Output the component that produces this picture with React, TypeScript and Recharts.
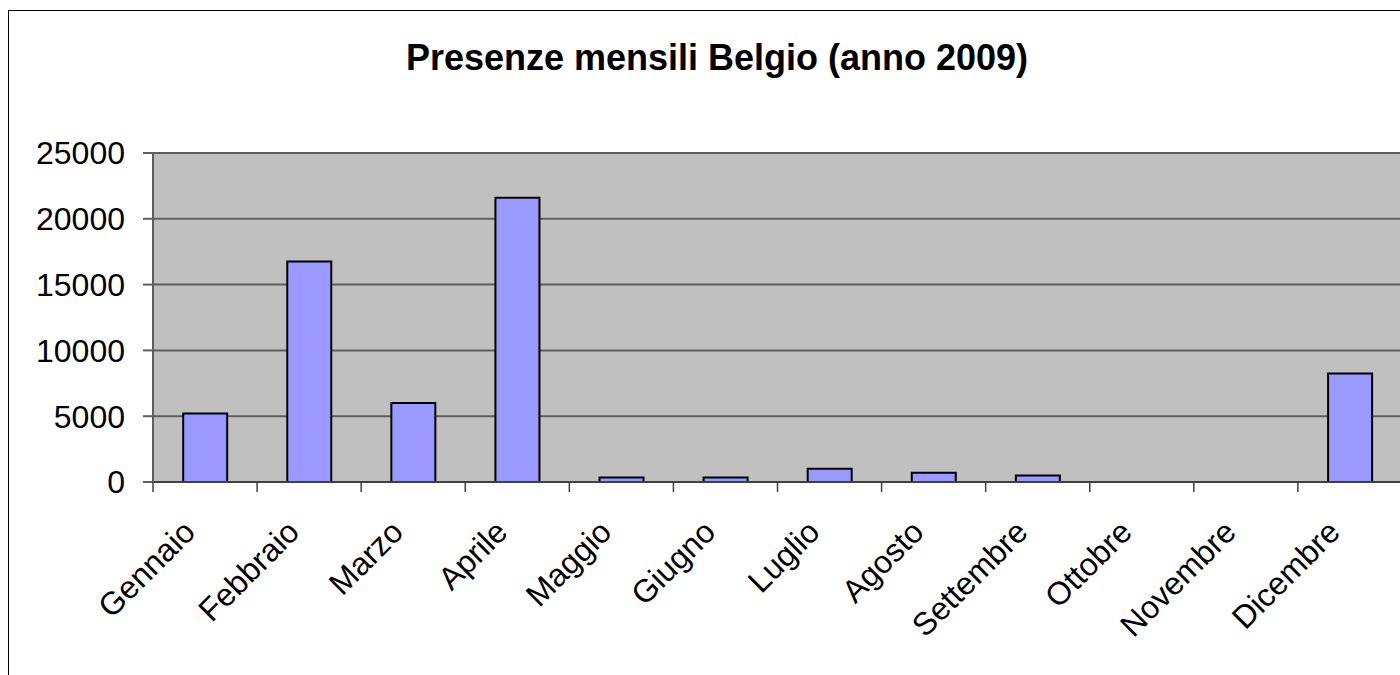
import { Bar, BarChart, CartesianGrid, XAxis, YAxis } from "recharts";

const months = [
  "Gennaio",
  "Febbraio",
  "Marzo",
  "Aprile",
  "Maggio",
  "Giugno",
  "Luglio",
  "Agosto",
  "Settembre",
  "Ottobre",
  "Novembre",
  "Dicembre",
];
const presenze = [5200, 16750, 6000, 21600, 350, 350, 1000, 700, 500, 0, 0, 8250];
const yTicks = [0, 5000, 10000, 15000, 20000, 25000];

const data = months.map((mese, i) => ({ mese, presenze: presenze[i] }));

const FONT = "'Liberation Sans', Arial, sans-serif";

// label rotated like Excel, plus the tick mark on the left edge of the band
const MonthTick = (props: any) => {
  const { x, y, payload, index, visibleTicksCount } = props;
  const half = payload.offset ?? 0;
  return (
    <g>
      <line x1={x - half} x2={x - half} y1={y} y2={y + 10} stroke="#404040" strokeWidth={1.5} />
      {index === visibleTicksCount - 1 && (
        <line x1={x + half} x2={x + half} y1={y} y2={y + 10} stroke="#404040" strokeWidth={1.5} />
      )}
      <g transform={`translate(${x - 8},${y + 52})`}>
        <text
          x={0}
          y={0}
          transform="rotate(-45)"
          textAnchor="end"
          fontSize={32}
          fontFamily={FONT}
          fill="#000"
        >
          {payload.value}
        </text>
      </g>
    </g>
  );
};

export default function App() {
  return (
    <div
      style={{
        position: "relative",
        width: 1400,
        height: 675,
        overflow: "hidden",
        background: "#fff",
      }}
    >
      <style>{"body{margin:0;overflow:hidden}"}</style>
      <div
        style={{
          position: "absolute",
          left: 8,
          top: 10,
          width: 1413,
          height: 700,
          border: "1px solid #000",
        }}
      >
        <BarChart
          width={1413}
          height={660}
          data={data}
          barCategoryGap="29%"
          margin={{ top: 142, right: 20, bottom: 0, left: 0 }}
        >
          <CartesianGrid
            vertical={false}
            fill="#c0c0c0"
            stroke="#5f5f5f"
            strokeWidth={2}
          />
          <XAxis
            dataKey="mese"
            interval={0}
            height={189}
            tickSize={0}
            tickMargin={0}
            tickLine={false}
            axisLine={{ stroke: "#404040", strokeWidth: 2 }}
            tick={<MonthTick />}
          />
          <YAxis
            domain={[0, 25000]}
            ticks={yTicks}
            width={144}
            tickSize={10}
            tickMargin={18}
            axisLine={{ stroke: "#5f5f5f", strokeWidth: 2 }}
            tickLine={{ stroke: "#5f5f5f", strokeWidth: 2 }}
            tick={{ fontSize: 32, fill: "#000", fontFamily: FONT }}
          />
          <Bar
            dataKey="presenze"
            fill="#9999ff"
            stroke="#000"
            strokeWidth={2}
            isAnimationActive={false}
          />
        </BarChart>
      </div>
      <div
        style={{
          position: "absolute",
          left: 0,
          top: 40,
          width: 1434,
          textAlign: "center",
          fontFamily: FONT,
          fontWeight: "bold",
          fontSize: 36,
          lineHeight: "36px",
          color: "#000",
        }}
      >
        Presenze mensili Belgio (anno 2009)
      </div>
    </div>
  );
}
